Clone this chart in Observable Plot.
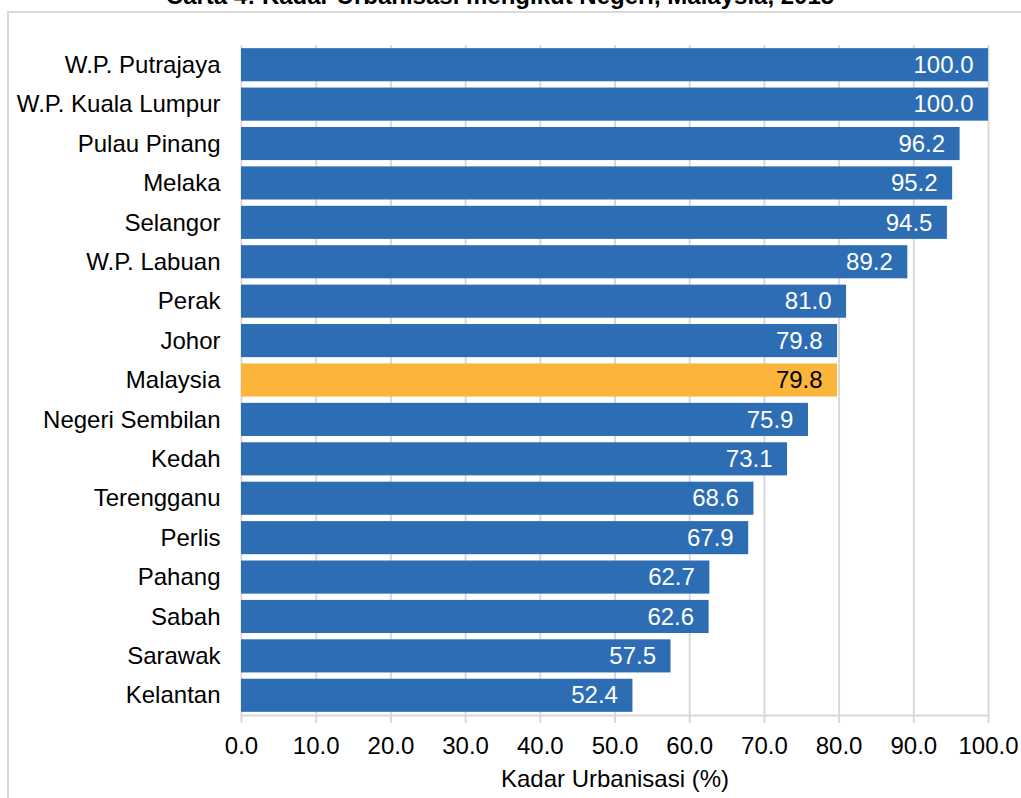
<!DOCTYPE html>
<html>
<head>
<meta charset="utf-8">
<script src="https://cdn.jsdelivr.net/npm/d3@7"></script>
<script src="https://cdn.jsdelivr.net/npm/@observablehq/plot@0.6"></script>
<style>
  html, body { margin: 0; padding: 0; background: #fff; overflow: hidden; }
  body { width: 1021px; height: 798px; position: relative; font-family: "Liberation Sans", Arial, sans-serif; }
  #title { position: absolute; left: 0; width: 1000px; top: -16px; text-align: center; font-weight: bold; font-size: 24px; line-height: 24px; color: #000; white-space: nowrap; }
  #frame { position: absolute; left: 7px; top: 11px; width: 1100px; height: 900px; border: 2px solid #d9d9d9; box-sizing: border-box; }
  #chart { position: absolute; left: 0; top: 0; }
  #chart svg { overflow: visible; }
</style>
</head>
<body>
<div id="frame"></div>
<div id="title">Carta 4: Kadar Urbanisasi mengikut Negeri, Malaysia, 2015</div>
<div id="chart"></div>
<script>
const states = ["W.P. Putrajaya", "W.P. Kuala Lumpur", "Pulau Pinang", "Melaka", "Selangor", "W.P. Labuan", "Perak", "Johor", "Malaysia", "Negeri Sembilan", "Kedah", "Terengganu", "Perlis", "Pahang", "Sabah", "Sarawak", "Kelantan"];
const values = [100.0, 100.0, 96.2, 95.2, 94.5, 89.2, 81.0, 79.8, 79.8, 75.9, 73.1, 68.6, 67.9, 62.7, 62.6, 57.5, 52.4];
const xTicks = [0, 10, 20, 30, 40, 50, 60, 70, 80, 90, 100];
const highlight = "Malaysia";

const data = states.map((s, i) => ({state: s, value: values[i]}));
const fmt = d3.format(".1f");
const FONT = "'Liberation Sans', Arial, sans-serif";

const chart = Plot.plot({
  width: 1021,
  height: 798,
  marginLeft: 241,
  marginRight: 33,
  marginTop: 45,
  marginBottom: 83,
  style: {fontFamily: FONT, fontSize: "24px", color: "#000", background: "transparent"},
  x: {domain: [0, 100], ticks: xTicks, tickFormat: fmt, label: "Kadar Urbanisasi (%)"},
  y: {domain: states, paddingInner: 0.16, paddingOuter: 0.08, round: false, label: null},
  marks: [
    Plot.ruleX(xTicks, {stroke: "#d9d9d9", strokeWidth: 2}),
    Plot.barX(data, {y: "state", x: "value", fill: d => d.state === highlight ? "#FBB53A" : "#2D6DB4"}),
    Plot.frame({anchor: "bottom", stroke: "#d9d9d9", strokeWidth: 2}),
    Plot.axisX({ticks: xTicks, tickFormat: fmt, tickSize: 8, tickPadding: 13, stroke: "#d9d9d9", strokeWidth: 2, fill: "#000", fontSize: 24, label: "Kadar Urbanisasi (%)", labelAnchor: "center", labelArrow: "none", labelOffset: 71}),
    Plot.axisY({tickSize: 0, tickPadding: 21, fill: "#000", fontSize: 24, label: null}),
    Plot.text(data, {y: "state", x: "value", text: d => fmt(d.value), textAnchor: "end", dx: -15, fill: d => d.state === highlight ? "#000" : "#fff", fontSize: 24})
  ]
});
document.getElementById("chart").appendChild(chart);
</script>
</body>
</html>
